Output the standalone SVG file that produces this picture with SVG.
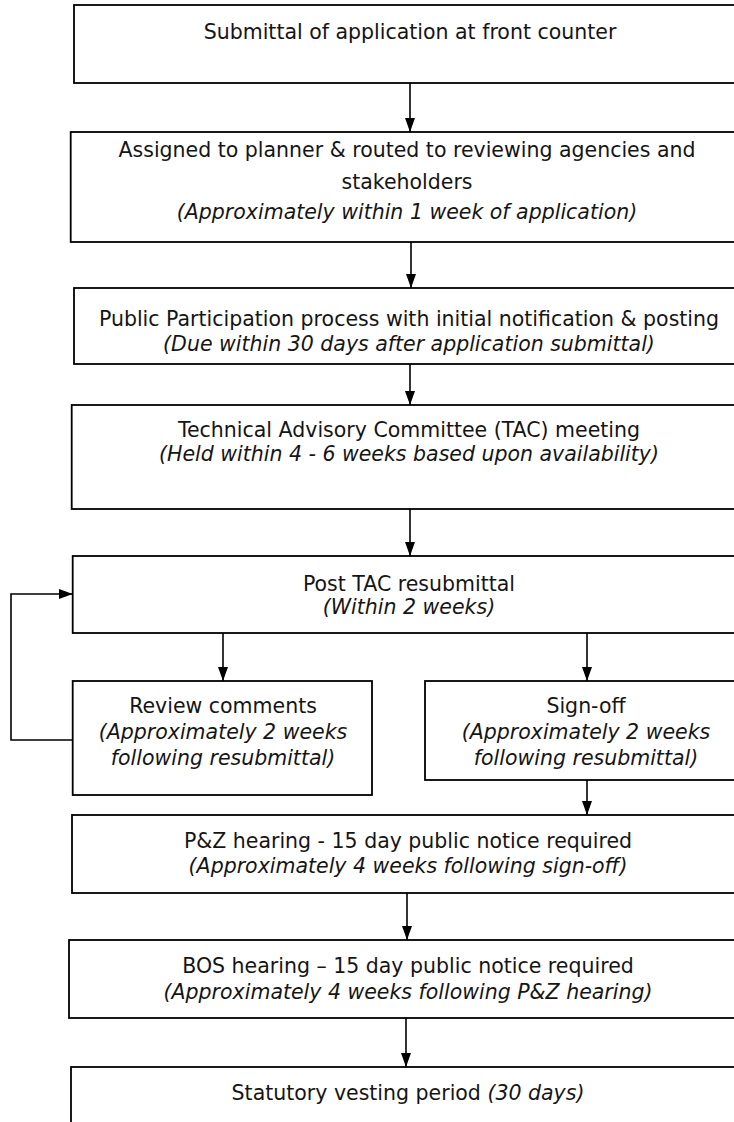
<svg xmlns="http://www.w3.org/2000/svg" width="734" height="1122" viewBox="0 0 734 1122">
<defs>
<marker id="ah" markerUnits="userSpaceOnUse" markerWidth="14" markerHeight="10" refX="14" refY="5" orient="auto">
<path d="M0,0 L14,5 L0,10 z" fill="#000"/>
</marker>
</defs>
<style>
.box{fill:#fff;stroke:#000;stroke-width:1.8}
.t{font-family:"DejaVu Sans","Liberation Sans",sans-serif;font-size:20.5px;fill:#151515;text-anchor:middle}
.i{font-style:italic}
.c{stroke:#000;stroke-width:1.6;fill:none;marker-end:url(#ah)}
</style>
<rect width="734" height="1122" fill="#fff"/>
<g id="connectors">
<line class="c" x1="410" y1="83" x2="410" y2="132"/>
<line class="c" x1="411" y1="242" x2="411" y2="288"/>
<line class="c" x1="410" y1="364" x2="410" y2="405"/>
<line class="c" x1="410" y1="509" x2="410" y2="556"/>
<line class="c" x1="223" y1="633" x2="223" y2="681"/>
<line class="c" x1="587" y1="633" x2="587" y2="681"/>
<line class="c" x1="587" y1="780" x2="587" y2="815"/>
<line class="c" x1="407" y1="893" x2="407" y2="940"/>
<line class="c" x1="406" y1="1018" x2="406" y2="1067"/>
<path class="c" d="M72.7,740 H11 V594 H72.7"/>
</g>
<g id="n1">
<rect class="box" x="74" y="5" width="690" height="78"/>
<text class="t" x="410" y="39">Submittal of application at front counter</text>
</g>
<g id="n2">
<rect class="box" x="70.7" y="132" width="690" height="110"/>
<text class="t" x="407" y="157">Assigned to planner &amp; routed to reviewing agencies and</text>
<text class="t" x="407" y="189">stakeholders</text>
<text class="t i" x="407" y="219">(Approximately within 1 week of application)</text>
</g>
<g id="n3">
<rect class="box" x="74" y="288" width="690" height="76"/>
<text class="t" x="409" y="326">Public Participation process with initial notification &amp; posting</text>
<text class="t i" x="409" y="351">(Due within 30 days after application submittal)</text>
</g>
<g id="n4">
<rect class="box" x="71.7" y="405" width="690" height="104"/>
<text class="t" x="409" y="437">Technical Advisory Committee (TAC) meeting</text>
<text class="t i" x="409" y="461">(Held within 4 - 6 weeks based upon availability)</text>
</g>
<g id="n5">
<rect class="box" x="72.7" y="556" width="690" height="77"/>
<text class="t" x="409" y="590.5">Post TAC resubmittal</text>
<text class="t i" x="409" y="614">(Within 2 weeks)</text>
</g>
<g id="n6">
<rect class="box" x="72.7" y="681" width="299.3" height="114"/>
<text class="t" x="223" y="713">Review comments</text>
<text class="t i" x="223" y="739">(Approximately 2 weeks</text>
<text class="t i" x="223" y="765">following resubmittal)</text>
</g>
<g id="n7">
<rect class="box" x="425" y="681" width="340" height="99"/>
<text class="t" x="586" y="713">Sign-off</text>
<text class="t i" x="586" y="739">(Approximately 2 weeks</text>
<text class="t i" x="586" y="765">following resubmittal)</text>
</g>
<g id="n8">
<rect class="box" x="72" y="815" width="690" height="78"/>
<text class="t" x="408" y="848">P&amp;Z hearing - 15 day public notice required</text>
<text class="t i" x="408" y="873">(Approximately 4 weeks following sign-off)</text>
</g>
<g id="n9">
<rect class="box" x="69" y="940" width="690" height="78"/>
<text class="t" x="408" y="973">BOS hearing – 15 day public notice required</text>
<text class="t i" x="408" y="999">(Approximately 4 weeks following P&amp;Z hearing)</text>
</g>
<g id="n10">
<rect class="box" x="71" y="1067" width="690" height="80"/>
<text class="t" x="408" y="1100">Statutory vesting period <tspan class="i">(30 days)</tspan></text>
</g>
</svg>
